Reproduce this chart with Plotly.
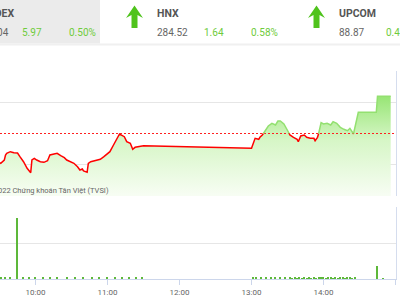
import pandas as pd
import plotly.graph_objects as go

DAY = "2022-06-15"
REF = 1194.07

# ---- header data ----
idx_names = ["VNINDEX", "HNX", "UPCOM"]
idx_values = ["1200.04", "284.52", "88.87"]
idx_changes = ["5.97", "1.64", "0.46"]
idx_pcts = ["0.50%", "0.58%", "0.46%"]

# ---- intraday price data (VN-Index) ----
price_time = [
    "09:15", "09:20", "09:25", "09:28", "09:31", "09:34", "09:35", "09:36", "09:39", "09:42",
    "09:45", "09:47", "09:50", "09:53", "09:56", "09:57", "09:59", "10:01", "10:04", "10:07",
    "10:10", "10:12", "10:15", "10:18", "10:21", "10:24", "10:26", "10:29", "10:32", "10:35",
    "10:37", "10:39", "10:40", "10:43", "10:44", "10:46", "10:49", "10:51", "10:54", "10:57",
    "11:00", "11:02", "11:05", "11:08", "11:10", "11:14", "11:16", "11:19", "11:21", "11:23",
    "11:28", "11:30",
    "13:00", "13:02", "13:03", "13:06", "13:07", "13:09", "13:10", "13:12", "13:14", "13:17",
    "13:20", "13:22", "13:24", "13:27", "13:30", "13:32", "13:35", "13:38", "13:39", "13:41",
    "13:44", "13:46", "13:49", "13:52", "13:53", "13:55", "13:56", "13:58", "14:00", "14:03",
    "14:06", "14:08", "14:11", "14:14", "14:17", "14:20", "14:22", "14:25", "14:26", "14:28",
    "14:29", "14:44", "14:45", "14:56",
]
price_value = [
    1191.50, 1190.80, 1189.90, 1189.60, 1189.30, 1189.83, 1190.63, 1190.90, 1191.16, 1191.00,
    1190.95, 1190.36, 1189.56, 1188.50, 1187.80, 1189.83, 1190.10, 1189.83, 1189.56, 1189.46,
    1189.72, 1190.63, 1190.79, 1190.90, 1190.52, 1190.20, 1189.83, 1189.56, 1189.30, 1188.76,
    1188.23, 1188.39, 1188.07, 1187.86, 1189.30, 1189.56, 1189.72, 1189.83, 1189.94, 1190.36,
    1190.90, 1191.16, 1192.23, 1193.30, 1193.99, 1193.56, 1192.76, 1192.50, 1191.54, 1191.86,
    1191.96, 1192.12,
    1191.70, 1193.03, 1193.30, 1193.14, 1193.46, 1193.83, 1194.10, 1194.79, 1195.27, 1195.70,
    1195.43, 1196.07, 1196.07, 1195.59, 1194.63, 1193.83, 1193.46, 1193.14, 1192.76, 1193.67,
    1193.83, 1193.46, 1193.30, 1193.30, 1192.92, 1193.46, 1194.10, 1195.80, 1195.59, 1195.70,
    1195.43, 1195.96, 1195.70, 1195.06, 1194.74, 1194.52, 1194.90, 1194.02, 1194.90, 1196.76,
    1197.46, 1197.46, 1200.04, 1200.04,
]

# ---- volume data ----
vol_time = [
    "09:19", "09:23", "09:27", "09:31", "09:35", "09:39", "09:45", "09:50", "09:55", "10:00",
    "10:06", "10:12", "10:18", "10:26", "10:33", "10:40", "10:47", "10:53", "11:00", "11:06",
    "11:12", "11:18", "11:24", "11:29",
    "13:01", "13:04", "13:08", "13:12", "13:16", "13:20", "13:24", "13:28", "13:32", "13:34",
    "13:36", "13:38", "13:40", "13:42", "13:44", "13:46", "13:48", "13:50", "13:52", "13:54",
    "13:56", "13:58", "14:00", "14:02", "14:04", "14:06", "14:08", "14:10", "14:12", "14:14",
    "14:16", "14:18", "14:20", "14:22", "14:24", "14:26", "14:45", "14:50",
]
vol_value = [
    0.20, 0.15, 0.20, 0.15, 0.20, 0.15, 8.45, 0.15, 0.20, 0.15,
    0.20, 0.15, 0.20, 0.15, 0.20, 0.15, 0.20, 0.15, 0.25, 0.15,
    0.20, 0.15, 0.20, 0.15,
    0.20, 0.15, 0.15, 0.15, 0.15, 0.15, 0.15, 0.15, 0.15, 0.12,
    0.15, 0.12, 0.15, 0.12, 0.15, 0.12, 0.15, 0.12, 0.15, 0.12,
    0.15, 0.15, 0.15, 0.12, 0.15, 0.15, 0.12, 0.15, 0.12, 0.15,
    0.15, 0.12, 0.15, 0.15, 0.12, 0.15, 1.80, 0.12,
]

tick_labels = ["10:00", "11:00", "12:00", "13:00", "14:00", "15:00"]

# ---------------------------------------------------------------
W, H = 400, 300
def px(x):
    return x / W
def py(y):
    return 1 - y / H

t = pd.to_datetime([f"{DAY} {s}" for s in price_time])
tn = t.asi8
v = price_value

# split line into below / above reference with crossing points
lo_x, lo_y, hi_x, hi_y = [], [], [], []
for i in range(len(v)):
    if i > 0:
        a, b = v[i - 1] - REF, v[i] - REF
        if a * b < 0:
            f = a / (a - b)
            tc = pd.Timestamp(int(tn[i - 1] + f * (tn[i] - tn[i - 1])))
            lo_x.append(tc); lo_y.append(REF)
            hi_x.append(tc); hi_y.append(REF)
    if v[i] >= REF:
        hi_x.append(t[i]); hi_y.append(v[i])
        lo_x.append(t[i]); lo_y.append(None)
    else:
        lo_x.append(t[i]); lo_y.append(v[i])
        hi_x.append(t[i]); hi_y.append(None)

xr = [f"{DAY} 09:30:24", f"{DAY} 15:00:00"]
xdom = [0, 395.5 / W]
tickvals = [pd.Timestamp(f"{DAY} {s}") for s in tick_labels]

fig = go.Figure()

fig.add_trace(go.Scatter(
    x=t, y=v, mode="lines", fill="tozeroy",
    line=dict(width=0, color="rgba(0,0,0,0)"),
    fillgradient=dict(type="vertical", start=REF - 10, stop=max(v),
                      colorscale=[[0, "rgb(247,253,243)"], [0.55, "rgb(214,246,198)"],
                                  [1, "rgb(150,229,115)"]]),
    hoverinfo="skip", showlegend=False, xaxis="x", yaxis="y",
))
# reference (previous close) dotted line
fig.add_trace(go.Scatter(x=xr, y=[REF, REF], mode="lines",
                         line=dict(color="#ff2020", width=1, dash="2px,2px"),
                         hoverinfo="skip", showlegend=False, xaxis="x", yaxis="y"))
fig.add_trace(go.Scatter(x=lo_x, y=lo_y, mode="lines", line=dict(color="#ff0000", width=1.5),
                         showlegend=False, xaxis="x", yaxis="y"))
fig.add_trace(go.Scatter(x=hi_x, y=hi_y, mode="lines", line=dict(color="#93e070", width=1.5),
                         showlegend=False, xaxis="x", yaxis="y"))

vt = pd.to_datetime([f"{DAY} {s}" for s in vol_time])
fig.add_trace(go.Bar(x=vt, y=vol_value, width=60000, marker=dict(color="#5db83a", line=dict(width=0)),
                     showlegend=False, xaxis="x2", yaxis="y2"))

fig.update_layout(
    width=W, height=H, margin=dict(l=0, r=0, t=0, b=0),
    paper_bgcolor="white", plot_bgcolor="white", bargap=0,
    font=dict(family="Roboto", color="#666"),
    xaxis=dict(domain=xdom, range=xr, type="date", showticklabels=False, showgrid=False,
               zeroline=False, anchor="y"),
    yaxis=dict(domain=[py(196), py(71)], range=[REF - 10, REF + 10],
               tickvals=[REF - 10, REF - 5, REF + 5, REF + 10], showticklabels=False,
               gridcolor="#e6e6e6", gridwidth=1, zeroline=False, side="right",
               showline=True, linecolor="#d5ddee", anchor="x"),
    xaxis2=dict(domain=xdom, range=xr, type="date", tickvals=tickvals, ticktext=tick_labels,
                ticks="outside", ticklen=5, tickcolor="#ccd6eb", showline=True,
                linecolor="#ccd6eb", showgrid=False, zeroline=False, anchor="y2",
                tickfont=dict(size=8, color="#666", family="Roboto")),
    yaxis2=dict(domain=[py(279), py(207)], range=[0, 10], tickvals=[0, 5, 10],
                showticklabels=False, gridcolor="#e6e6e6", zeroline=False, side="right",
                showline=True, linecolor="#d5ddee", anchor="x2"),
)

shapes = []
# header background
shapes.append(dict(type="rect", xref="paper", yref="paper", x0=0, x1=px(100), y0=py(43.5), y1=1,
                   fillcolor="#ebebeb", line=dict(width=0), layer="below"))
shapes.append(dict(type="line", xref="paper", yref="paper", x0=0, x1=1, y0=py(44.5), y1=py(44.5),
                   line=dict(color="#f0f0f0", width=2)))

def arrow(cx):
    pts = [(cx - 8.5, 18), (cx, 5.5), (cx + 8.5, 18), (cx + 3, 15), (cx + 3, 28),
           (cx - 3, 28), (cx - 3, 15)]
    d = "M " + " L ".join(f"{px(x):.5f},{py(y):.5f}" for x, y in pts) + " Z"
    return dict(type="path", xref="paper", yref="paper", path=d,
                fillcolor="#4fc31c", line=dict(width=0))

shapes.append(arrow(134.5))
shapes.append(arrow(316.5))
fig.update_layout(shapes=shapes)

GREEN = "#6fcb3c"
ann = []
def text(s, x, y, anchor="left", size=10, color="#666", bold=False):
    ann.append(dict(text=f"<b>{s}</b>" if bold else s, x=px(x), y=py(y), xref="paper",
                    yref="paper", xanchor=anchor, yanchor="middle", showarrow=False,
                    font=dict(size=size, color=color, family="Roboto"), borderpad=0))

# header texts
text(idx_names[0], 15, 13, anchor="right", size=10.5, color="#555", bold=True)
text(idx_values[0], 10, 32, anchor="right")
text(idx_changes[0], 21, 32, color=GREEN)
text(idx_pcts[0], 68, 32, color=GREEN)
text(idx_names[1], 156, 13, size=10.5, color="#555", bold=True)
text(idx_values[1], 156, 32)
text(idx_changes[1], 203, 32, color=GREEN)
text(idx_pcts[1], 250, 32, color=GREEN)
text(idx_names[2], 338, 13, size=10.5, color="#555", bold=True)
text(idx_values[2], 338, 32)
text(idx_pcts[2], 385, 32, color=GREEN)
# credit
text("© 2022 Chứng khoán Tân Việt (TVSI)", 110, 190.5, anchor="right", size=7.5, color="#666")

fig.update_layout(annotations=ann)

fig.write_html("out.html")
